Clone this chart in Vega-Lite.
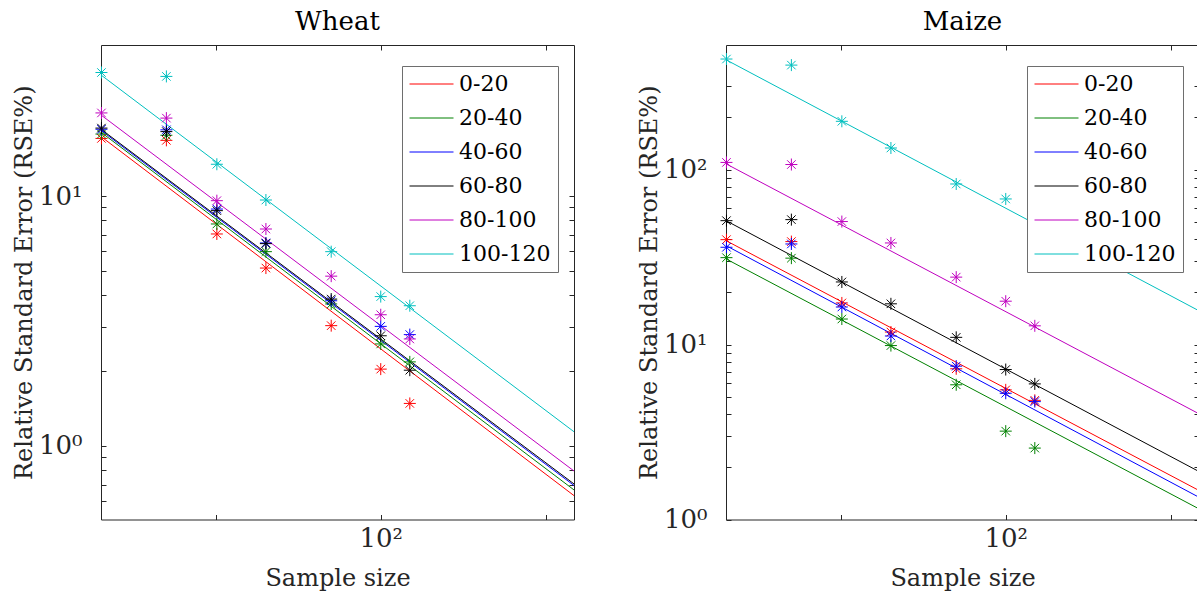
{
  "$schema": "https://vega.github.io/schema/vega-lite/v6.json",
  "background": "white",
  "padding": {"left": 11, "top": 8, "right": 0, "bottom": 0},
  "spacing": 59,
  "datasets": {
    "wheat_lines": [
      {"group": "0-20", "n": 30.84, "rse": 17.3}, {"group": "0-20", "n": 225.4, "rse": 0.633},
      {"group": "20-40", "n": 30.84, "rse": 18.0}, {"group": "20-40", "n": 225.4, "rse": 0.667},
      {"group": "40-60", "n": 30.84, "rse": 18.3}, {"group": "40-60", "n": 225.4, "rse": 0.695},
      {"group": "60-80", "n": 30.84, "rse": 18.5}, {"group": "60-80", "n": 225.4, "rse": 0.705},
      {"group": "80-100", "n": 30.84, "rse": 21.1}, {"group": "80-100", "n": 225.4, "rse": 0.794},
      {"group": "100-120", "n": 30.84, "rse": 30.5}, {"group": "100-120", "n": 225.4, "rse": 1.14}
    ],
    "wheat_pts": [
      {"group": "0-20", "n": 30.9, "rse": 17.0}, {"group": "0-20", "n": 40.6, "rse": 16.7}, {"group": "0-20", "n": 50.2, "rse": 7.05}, {"group": "0-20", "n": 61.7, "rse": 5.15}, {"group": "0-20", "n": 81.2, "rse": 3.03}, {"group": "0-20", "n": 100, "rse": 2.03}, {"group": "0-20", "n": 113, "rse": 1.48},
      {"group": "20-40", "n": 30.9, "rse": 17.7}, {"group": "20-40", "n": 40.6, "rse": 17.5}, {"group": "20-40", "n": 50.2, "rse": 7.73}, {"group": "20-40", "n": 61.7, "rse": 5.99}, {"group": "20-40", "n": 81.2, "rse": 3.70}, {"group": "20-40", "n": 100, "rse": 2.56}, {"group": "20-40", "n": 113, "rse": 2.17},
      {"group": "40-60", "n": 30.9, "rse": 18.5}, {"group": "40-60", "n": 40.6, "rse": 18.4}, {"group": "40-60", "n": 50.2, "rse": 8.87}, {"group": "40-60", "n": 61.7, "rse": 6.49}, {"group": "40-60", "n": 81.2, "rse": 3.81}, {"group": "40-60", "n": 100, "rse": 3.01}, {"group": "40-60", "n": 113, "rse": 2.79},
      {"group": "60-80", "n": 30.9, "rse": 18.7}, {"group": "60-80", "n": 40.6, "rse": 18.1}, {"group": "60-80", "n": 50.2, "rse": 8.74}, {"group": "60-80", "n": 61.7, "rse": 6.45}, {"group": "60-80", "n": 81.2, "rse": 3.87}, {"group": "60-80", "n": 100, "rse": 2.76}, {"group": "60-80", "n": 113, "rse": 2.01},
      {"group": "80-100", "n": 30.9, "rse": 21.5}, {"group": "80-100", "n": 40.6, "rse": 20.5}, {"group": "80-100", "n": 50.2, "rse": 9.58}, {"group": "80-100", "n": 61.7, "rse": 7.38}, {"group": "80-100", "n": 81.2, "rse": 4.78}, {"group": "80-100", "n": 100, "rse": 3.35}, {"group": "80-100", "n": 113, "rse": 2.68},
      {"group": "100-120", "n": 30.9, "rse": 31.2}, {"group": "100-120", "n": 40.6, "rse": 30.1}, {"group": "100-120", "n": 50.2, "rse": 13.4}, {"group": "100-120", "n": 61.7, "rse": 9.64}, {"group": "100-120", "n": 81.2, "rse": 5.99}, {"group": "100-120", "n": 100, "rse": 3.96}, {"group": "100-120", "n": 113, "rse": 3.64}
    ],
    "maize_lines": [
      {"group": "0-20", "n": 30.84, "rse": 39.3}, {"group": "0-20", "n": 225.4, "rse": 1.465},
      {"group": "20-40", "n": 30.84, "rse": 30.9}, {"group": "20-40", "n": 225.4, "rse": 1.15},
      {"group": "40-60", "n": 30.84, "rse": 36.8}, {"group": "40-60", "n": 225.4, "rse": 1.34},
      {"group": "60-80", "n": 30.84, "rse": 51.1}, {"group": "60-80", "n": 225.4, "rse": 1.88},
      {"group": "80-100", "n": 30.84, "rse": 108}, {"group": "80-100", "n": 225.4, "rse": 4.02},
      {"group": "100-120", "n": 30.84, "rse": 425}, {"group": "100-120", "n": 225.4, "rse": 15.6}
    ],
    "maize_pts": [
      {"group": "0-20", "n": 30.9, "rse": 39.8}, {"group": "0-20", "n": 40.6, "rse": 38.8}, {"group": "0-20", "n": 50.2, "rse": 17.3}, {"group": "0-20", "n": 61.7, "rse": 11.8}, {"group": "0-20", "n": 81.2, "rse": 7.27}, {"group": "0-20", "n": 100, "rse": 5.51}, {"group": "0-20", "n": 113, "rse": 4.8},
      {"group": "20-40", "n": 30.9, "rse": 31.4}, {"group": "20-40", "n": 40.6, "rse": 31.2}, {"group": "20-40", "n": 50.2, "rse": 14.0}, {"group": "20-40", "n": 61.7, "rse": 9.87}, {"group": "20-40", "n": 81.2, "rse": 5.89}, {"group": "20-40", "n": 100, "rse": 3.20}, {"group": "20-40", "n": 113, "rse": 2.56},
      {"group": "40-60", "n": 30.9, "rse": 36.0}, {"group": "40-60", "n": 40.6, "rse": 37.6}, {"group": "40-60", "n": 50.2, "rse": 16.4}, {"group": "40-60", "n": 61.7, "rse": 11.2}, {"group": "40-60", "n": 81.2, "rse": 7.53}, {"group": "40-60", "n": 100, "rse": 5.27}, {"group": "40-60", "n": 113, "rse": 4.72},
      {"group": "60-80", "n": 30.9, "rse": 51.1}, {"group": "60-80", "n": 40.6, "rse": 51.8}, {"group": "60-80", "n": 50.2, "rse": 22.8}, {"group": "60-80", "n": 61.7, "rse": 17.1}, {"group": "60-80", "n": 81.2, "rse": 11.0}, {"group": "60-80", "n": 100, "rse": 7.2}, {"group": "60-80", "n": 113, "rse": 5.96},
      {"group": "80-100", "n": 30.9, "rse": 110}, {"group": "80-100", "n": 40.6, "rse": 107}, {"group": "80-100", "n": 50.2, "rse": 50.5}, {"group": "80-100", "n": 61.7, "rse": 38.1}, {"group": "80-100", "n": 81.2, "rse": 24.3}, {"group": "80-100", "n": 100, "rse": 17.7}, {"group": "80-100", "n": 113, "rse": 12.8},
      {"group": "100-120", "n": 30.9, "rse": 429}, {"group": "100-120", "n": 40.6, "rse": 396}, {"group": "100-120", "n": 50.2, "rse": 189}, {"group": "100-120", "n": 61.7, "rse": 133}, {"group": "100-120", "n": 81.2, "rse": 82.8}, {"group": "100-120", "n": 100, "rse": 68.0}, {"group": "100-120", "n": 113, "rse": 49}
    ]
  },
  "config": {
    "view": {"stroke": "#262626", "strokeWidth": 1},
    "font": "DejaVu Serif",
    "axis": {
      "grid": false, "domain": false, "tickColor": "#262626", "tickSize": -5, "tickWidth": 1,
      "labelFont": "DejaVu Serif", "labelFontSize": 26, "labelColor": "#262626",
      "titleFont": "DejaVu Serif", "titleFontSize": 24, "titleFontWeight": "normal", "titleColor": "#262626",
      "labelOverlap": false, "labelFlush": false
    },
    "title": {"font": "DejaVu Serif", "fontSize": 26, "fontWeight": "normal", "color": "#000000", "offset": 10},
    "legend": {
      "orient": "none", "legendX": 301, "legendY": 21,
      "symbolType": "stroke", "symbolSize": 1936, "symbolStrokeWidth": 1,
      "labelFont": "DejaVu Serif", "labelFontSize": 22, "labelColor": "#000000",
      "fillColor": "white", "strokeColor": "#6e6e6e", "padding": 7,
      "rowPadding": 12, "clipHeight": 22, "labelOffset": 5, "zindex": 1, "labelLimit": 0
    }
  },
  "resolve": {"scale": {"color": "independent", "stroke": "independent"}, "legend": {"color": "independent"}},
  "hconcat": [
    {
      "title": "Wheat",
      "width": 473, "height": 474.5,
      "resolve": {"axis": {"x": "independent", "y": "independent"}},
      "layer": [
        {
          "data": {"name": "wheat_lines"},
          "mark": {"type": "line", "strokeWidth": 1},
          "encoding": {
            "x": {"field": "n", "type": "quantitative", "scale": {"type": "log", "domain": [30.84, 225.4], "nice": false},
                  "axis": {"orient": "bottom", "values": [50, 100, 200], "labelExpr": "datum.value == 100 ? '10²' : ''", "title": "Sample size", "labelPadding": 11, "titlePadding": 15}},
            "y": {"field": "rse", "type": "quantitative", "scale": {"type": "log", "domain": [0.508, 40.2], "nice": false},
                  "axis": {"orient": "left", "values": [0.6, 0.7, 0.8, 0.9, 1, 2, 3, 4, 5, 6, 7, 8, 9, 10], "labelExpr": "datum.value == 1 ? '10⁰' : datum.value == 10 ? '10¹' : ''", "title": "Relative Standard Error (RSE%)", "labelPadding": 24, "titlePadding": 2}},
            "color": {"field": "group", "type": "nominal", "scale": {"domain": ["0-20", "20-40", "40-60", "60-80", "80-100", "100-120"], "range": ["#ff0000", "#008000", "#0000ff", "#000000", "#bf00bf", "#00bfbf"]}, "legend": {"title": null}}
          }
        },
        {
          "data": {"name": "wheat_pts"},
          "mark": {"type": "point", "shape": "M-1,0L1,0M0,-1L0,1M-0.7071,-0.7071L0.7071,0.7071M-0.7071,0.7071L0.7071,-0.7071", "filled": false, "size": 144, "strokeWidth": 1, "opacity": 1},
          "encoding": {
            "x": {"field": "n", "type": "quantitative", "scale": {"type": "log", "domain": [30.84, 225.4], "nice": false},
                  "axis": {"orient": "top", "values": [50, 100, 200], "labels": false, "title": null}},
            "y": {"field": "rse", "type": "quantitative", "scale": {"type": "log", "domain": [0.508, 40.2], "nice": false},
                  "axis": {"orient": "right", "values": [0.6, 0.7, 0.8, 0.9, 1, 2, 3, 4, 5, 6, 7, 8, 9, 10], "labels": false, "title": null}},
            "stroke": {"field": "group", "type": "nominal", "scale": {"domain": ["0-20", "20-40", "40-60", "60-80", "80-100", "100-120"], "range": ["#ff0000", "#008000", "#0000ff", "#000000", "#bf00bf", "#00bfbf"]}, "legend": null}
          }
        }
      ]
    },
    {
      "title": "Maize",
      "width": 473, "height": 474.5,
      "resolve": {"axis": {"x": "independent", "y": "independent"}},
      "layer": [
        {
          "data": {"name": "maize_lines"},
          "mark": {"type": "line", "strokeWidth": 1},
          "encoding": {
            "x": {"field": "n", "type": "quantitative", "scale": {"type": "log", "domain": [30.84, 225.4], "nice": false},
                  "axis": {"orient": "bottom", "values": [50, 100, 200], "labelExpr": "datum.value == 100 ? '10²' : ''", "title": "Sample size", "labelPadding": 11, "titlePadding": 15}},
            "y": {"field": "rse", "type": "quantitative", "scale": {"type": "log", "domain": [1, 516], "nice": false},
                  "axis": {"orient": "left", "values": [1, 2, 3, 4, 5, 6, 7, 8, 9, 10, 20, 30, 40, 50, 60, 70, 80, 90, 100, 200, 300], "labelExpr": "datum.value == 1 ? '10⁰' : datum.value == 10 ? '10¹' : datum.value == 100 ? '10²' : ''", "title": "Relative Standard Error (RSE%)", "labelPadding": 24, "titlePadding": 2}},
            "color": {"field": "group", "type": "nominal", "scale": {"domain": ["0-20", "20-40", "40-60", "60-80", "80-100", "100-120"], "range": ["#ff0000", "#008000", "#0000ff", "#000000", "#bf00bf", "#00bfbf"]}, "legend": {"title": null}}
          }
        },
        {
          "data": {"name": "maize_pts"},
          "mark": {"type": "point", "shape": "M-1,0L1,0M0,-1L0,1M-0.7071,-0.7071L0.7071,0.7071M-0.7071,0.7071L0.7071,-0.7071", "filled": false, "size": 144, "strokeWidth": 1, "opacity": 1},
          "encoding": {
            "x": {"field": "n", "type": "quantitative", "scale": {"type": "log", "domain": [30.84, 225.4], "nice": false},
                  "axis": {"orient": "top", "values": [50, 100, 200], "labels": false, "title": null}},
            "y": {"field": "rse", "type": "quantitative", "scale": {"type": "log", "domain": [1, 516], "nice": false},
                  "axis": {"orient": "right", "values": [1, 2, 3, 4, 5, 6, 7, 8, 9, 10, 20, 30, 40, 50, 60, 70, 80, 90, 100, 200, 300], "labels": false, "title": null}},
            "stroke": {"field": "group", "type": "nominal", "scale": {"domain": ["0-20", "20-40", "40-60", "60-80", "80-100", "100-120"], "range": ["#ff0000", "#008000", "#0000ff", "#000000", "#bf00bf", "#00bfbf"]}, "legend": null}
          }
        }
      ]
    }
  ]
}
